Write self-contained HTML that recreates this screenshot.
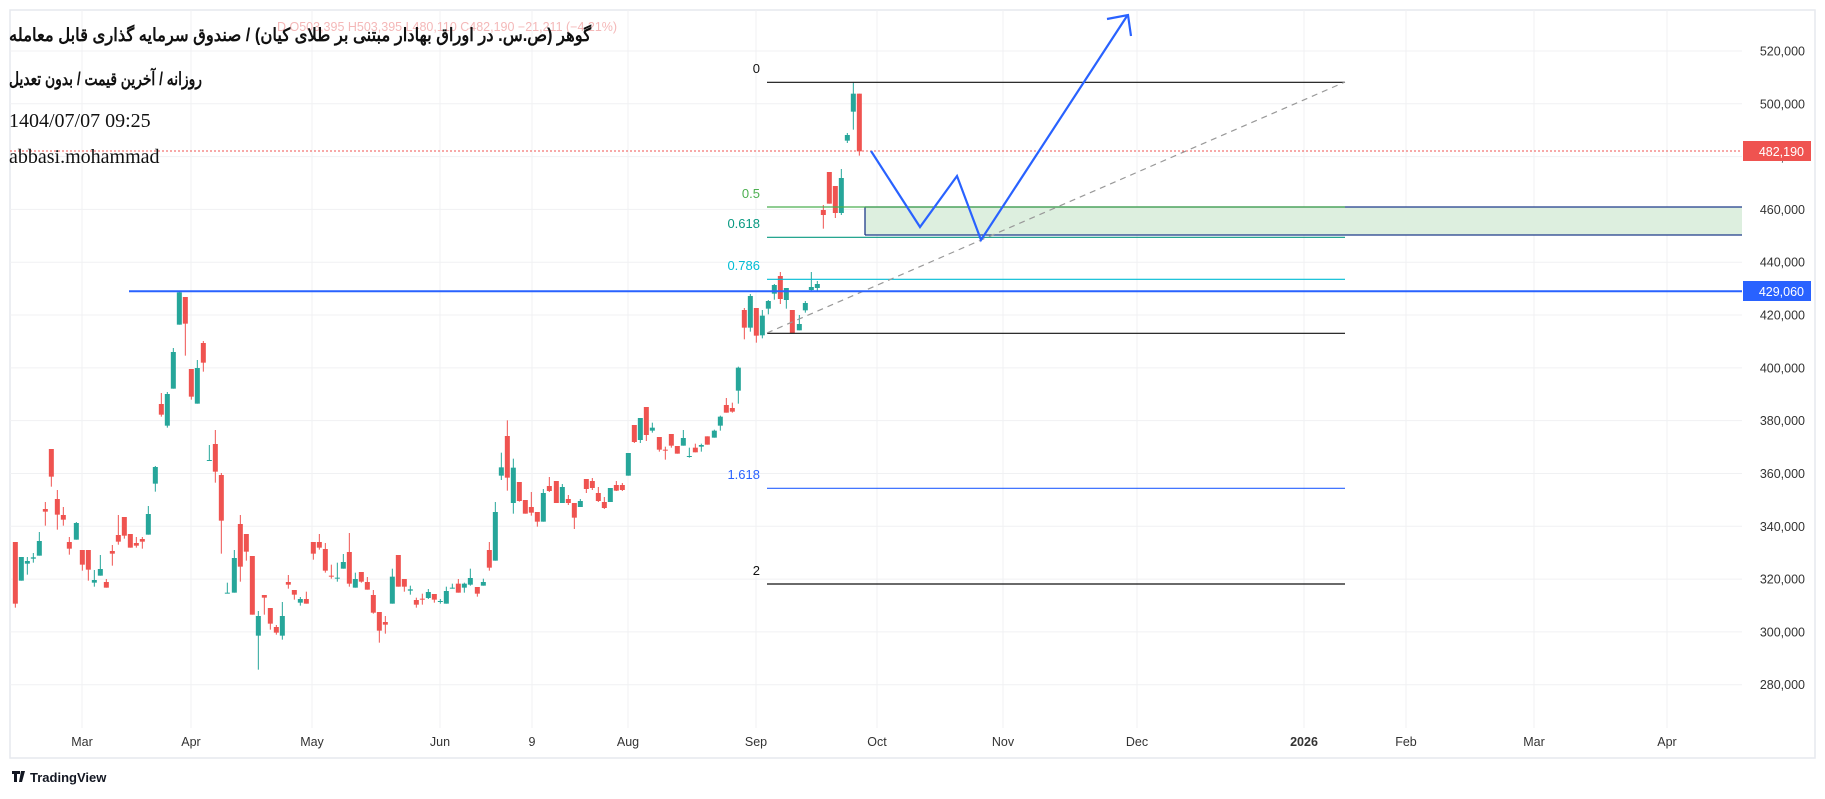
<!DOCTYPE html>
<html><head><meta charset="utf-8"><style>
html,body{margin:0;padding:0;background:#fff;}
svg{display:block;}
text{font-family:"Liberation Sans",sans-serif;}
</style></head><body>
<svg id="s" width="1825" height="799" viewBox="0 0 1825 799" xmlns="http://www.w3.org/2000/svg">
<rect x="0" y="0" width="1825" height="799" fill="#fff"/>
<rect x="10" y="10" width="1805" height="748" fill="none" stroke="#e6e8ee" stroke-width="1.5"/>
<g id="grid" stroke="#f0f1f3" stroke-width="1"></g>
<g id="candles"></g>
<!-- zone -->
<rect x="865" y="207" width="877" height="28" fill="#ddefdf" />
<line x1="865" y1="207" x2="1742" y2="207" stroke="#1e3a8a" stroke-width="1.3"/>
<line x1="865" y1="235" x2="1742" y2="235" stroke="#1e3a8a" stroke-width="1.3"/>
<line x1="865" y1="207" x2="865" y2="235" stroke="#1e3a8a" stroke-width="1.3"/>
<!-- fib -->
<line x1="767" y1="82.3" x2="1345" y2="82.3" stroke="#111" stroke-width="1.2"/>
<line x1="767" y1="207" x2="1345" y2="207" stroke="#4caf50" stroke-width="1.2"/>
<line x1="767" y1="237.3" x2="1345" y2="237.3" stroke="#089981" stroke-width="1.2"/>
<line x1="767" y1="279.3" x2="1345" y2="279.3" stroke="#00bcd4" stroke-width="1.2"/>
<line x1="767" y1="333.3" x2="1345" y2="333.3" stroke="#111" stroke-width="1.2"/>
<line x1="767" y1="488.3" x2="1345" y2="488.3" stroke="#2962ff" stroke-width="1.2"/>
<line x1="767" y1="584" x2="1345" y2="584" stroke="#111" stroke-width="1.2"/>
<g font-size="13" text-anchor="end">
<text x="760" y="73" fill="#111">0</text>
<text x="760" y="198" fill="#4caf50">0.5</text>
<text x="760" y="228" fill="#089981">0.618</text>
<text x="760" y="270" fill="#00bcd4">0.786</text>
<text x="760" y="479" fill="#2962ff">1.618</text>
<text x="760" y="575" fill="#111">2</text>
</g>
<line x1="767" y1="333" x2="1345" y2="82" stroke="#999" stroke-width="1.2" stroke-dasharray="6,5"/>
<!-- price line -->
<line x1="10" y1="151" x2="1742" y2="151" stroke="#ef5350" stroke-width="1" stroke-dasharray="2,2"/>
<line x1="129" y1="291.3" x2="1742" y2="291.3" stroke="#2962ff" stroke-width="2"/>
<!-- projection -->
<polyline points="871,151 920,227 957,176 981,240 1127,16" fill="none" stroke="#2962ff" stroke-width="2.2"/>
<polyline points="1107,19 1128,15 1131,36" fill="none" stroke="#2962ff" stroke-width="2.2"/>
<!-- price axis -->
<g id="plabels" font-size="12.5" fill="#333" text-anchor="end"></g>
<rect x="1743" y="141" width="68" height="20" fill="#ef5350"/>
<text x="1804" y="156" font-size="12.5" fill="#fff" text-anchor="end">482,190</text>
<rect x="1743" y="281" width="68" height="20" fill="#2962ff"/>
<text x="1804" y="296" font-size="12.5" fill="#fff" text-anchor="end">429,060</text>
<g id="tlabels" font-size="12.5" fill="#333" text-anchor="middle"></g>
<!-- header -->
<text x="277" y="31" font-size="12.5" fill="#f4b8b8">D  O503,395  H503,395  L480,110  C482,190  −21,211 (−4.21%)</text>
<text x="9" y="41" font-size="18" font-weight="bold" fill="#111" textLength="582" lengthAdjust="spacingAndGlyphs">گوهر (ص.س. در اوراق بهادار مبتنی بر طلای کیان) / صندوق سرمایه گذاری قابل معامله</text>
<text x="9" y="85" font-size="18" font-weight="bold" fill="#111" textLength="193" lengthAdjust="spacingAndGlyphs">روزانه / آخرین قیمت / بدون تعدیل</text>
<text x="9" y="127" font-size="20" fill="#111" style="font-family:'Liberation Serif',serif">1404/07/07 09:25</text>
<text x="9" y="163" font-size="20" fill="#111" style="font-family:'Liberation Serif',serif">abbasi.mohammad</text>
<g transform="translate(12,771)">
<path d="M0 0h8v3h-3v8h-3v-8h-2z M9 0h4l-3 11h-3z" fill="#131722"/>
<text x="18" y="11" font-size="13" font-weight="bold" fill="#131722">TradingView</text>
</g>
</svg>
<script>
const NS="http://www.w3.org/2000/svg";
function el(p,t,a){const e=document.createElementNS(NS,t);for(const k in a)e.setAttribute(k,a[k]);p.appendChild(e);return e;}
const grid=document.getElementById('grid');
const pl=document.getElementById('plabels');
for(let p=280000;p<=520000;p+=20000){const y=51+(520000-p)/378.7;
 el(grid,'line',{x1:10,x2:1742,y1:y,y2:y});
 const t=el(pl,'text',{x:1805,y:y+4.5});t.textContent=p.toLocaleString('en-US');}
const tl=document.getElementById('tlabels');
[[82,'Mar'],[191,'Apr'],[312,'May'],[440,'Jun'],[532,'9'],[628,'Aug'],[756,'Sep'],[877,'Oct'],[1003,'Nov'],[1137,'Dec'],[1304,'2026'],[1406,'Feb'],[1534,'Mar'],[1667,'Apr']].forEach(([x,s])=>{
 el(grid,'line',{x1:x,x2:x,y1:10,y2:728});
 const t=el(tl,'text',{x:x,y:746});t.textContent=s;if(s==='2026')t.setAttribute('font-weight','bold');});
const A=[[46,'R',816,1001,816,1013],[64,'G',861,932,861,932],[82,'G',873,881,861,914],[100,'G',862,866,849,878],[118,'G',813,857,786,857],[136,'R',717,725,696,767],[154,'R',537,620,537,650],[172,'R',687,734,660,779],[190,'R',735,749,711,767],[208,'R',816,836,801,854],[229,'G',759,809,756,809],[247,'R',840,884,840,902],[265,'R',840,899,840,932],[283,'G',930,938,900,950],[301,'G',897,917,855,917],[319,'R',936,953,927,953],[337,'R',843,851,825,887],[355,'R',795,815,735,824],[373,'R',741,797,741,806],[391,'R',792,833,792,833],[409,'R',819,827,801,833],[427,'R',807,815,801,836],[445,'G',732,794,708,794],[466,'G',591,641,588,665],[484,'R',402,434,369,440],[502,'G',372,467,366,473],[520,'G',246,356,234,356],[538,'G',67,164,64,164],[556,'R',81,161,81,257],[574,'R',297,380,297,389],[592,'G',294,401,270,401],[610,'R',219,278,213,305],[628,'G',570,572,525,572],[646,'R',522,605,480,638],[664,'R',615,752,609,851],[682,'G',968,970,938,970],[703,'G',864,968,840,968],[721,'R',762,890,735,935],[739,'R',792,845,792,872],[757,'R',858,1034,858,1034],[775,'G',1038,1097,1023,1199],[793,'R',975,983,975,1034],[811,'R',1014,1061,1014,1079],[829,'R',1071,1088,1065,1094],[847,'G',1038,1097,996,1109],[865,'R',936,944,915,956],[883,'R',960,974,960,989],[901,'G',987,998,981,1007],[919,'R',987,1001,965,1001],[940,'R',816,851,816,869],[958,'R',816,833,792,839],[976,'R',837,902,819,908],[994,'R',917,920,884,926],[1012,'G',923,926,878,935],[1030,'G',876,896,852,896],[1048,'R',846,941,789,950],[1066,'G',927,953,908,953],[1084,'R',906,935,906,938],[1102,'R',936,959,921,959],[1120,'R',975,1028,960,1031],[1138,'R',1026,1082,1026,1118],[1156,'R',1056,1064,1038,1091],[1177,'G',920,1001,896,1001],[1195,'R',855,950,855,950],[1213,'R',927,950,927,965],[1231,'G',958,962,947,974],[1249,'R',990,1004,983,1013],[1267,'R',986,989,971,1004],[1285,'G',966,984,957,987],[1303,'R',972,989,972,998],[1321,'G',993,996,987,1001],[1339,'G',963,1001,950,1001],[1357,'G',953,956,941,956],[1375,'R',941,968,927,968],[1393,'G',941,953,938,968],[1411,'G',924,944,896,947],[1432,'R',951,971,951,980],[1450,'G',936,947,926,947],[1468,'R',840,893,816,902],[1486,'G',726,872,696,872]];
const B=[[64,'G',1222,1247,1178,1260],[82,'R',1128,1253,1081,1292],[100,'G',1223,1329,1196,1361],[118,'R',1266,1323,1266,1325],[136,'R',1320,1361,1320,1361],[154,'R',1341,1358,1296,1367],[172,'R',1356,1385,1356,1400],[190,'G',1299,1385,1287,1385],[208,'R',1278,1293,1251,1296],[229,'R',1263,1329,1263,1329],[247,'G',1281,1329,1272,1329],[265,'R',1317,1329,1305,1335],[283,'R',1329,1373,1329,1407],[301,'G',1323,1341,1317,1341],[319,'R',1257,1287,1257,1299],[337,'R',1263,1284,1254,1290],[355,'R',1299,1323,1281,1326],[373,'R',1326,1344,1311,1347],[391,'G',1284,1326,1284,1326],[409,'R',1275,1292,1263,1293],[427,'R',1275,1290,1269,1293],[445,'G',1179,1247,1179,1247],[463,'R',1095,1146,1095,1149],[481,'G',1074,1140,1074,1149],[499,'R',1041,1125,1041,1143],[517,'G',1103,1112,1088,1118],[538,'R',1131,1169,1131,1175],[556,'R',1169,1171,1160,1199],[574,'R',1122,1157,1122,1163],[592,'R',1158,1181,1158,1181],[610,'G',1134,1157,1110,1157],[628,'G',1188,1190,1163,1193],[646,'R',1163,1177,1151,1177],[664,'G',1155,1160,1151,1175],[682,'R',1129,1154,1129,1154],[703,'G',1112,1133,1109,1133],[721,'G',1070,1097,1067,1112],[739,'R',1035,1058,1014,1058],[757,'R',1044,1055,1028,1058],[775,'G',923,992,920,1031],[793,'R',750,803,744,838],[811,'G',708,803,702,815],[829,'R',744,827,744,848],[847,'G',767,826,750,835],[865,'G',723,746,720,763],[883,'G',675,701,672,719],[901,'R',648,717,636,732],[919,'G',684,720,684,746],[937,'R',750,819,750,819],[958,'G',792,811,765,811],[976,'G',729,751,723,758],[994,'G',681,690,636,693],[1012,'G',672,684,663,693],[1030,'R',450,465,435,506],[1048,'R',336,431,336,431],[1066,'R',378,459,378,474],[1084,'G',354,459,327,465],[1102,'G',225,242,219,249],[1120,'G',101,155,68,209],[1138,'R',101,274,101,287]];
const g=document.getElementById('candles');
function draw(list,ox,oy){list.forEach(c=>{const x=ox+c[0]/3,col=c[1]==='G'?'#26a69a':'#ef5350';
 const bt=oy+c[2]/3,bb=oy+c[3]/3,wt=oy+c[4]/3,wb=oy+c[5]/3;
 el(g,'line',{x1:x,x2:x,y1:wt,y2:wb,stroke:col,'stroke-width':1});
 el(g,'rect',{x:x-2.5,y:bt,width:5,height:Math.max(bb-bt,1),fill:col});});}
draw(A,0,270);draw(B,480,60);
</script>
</body></html>
